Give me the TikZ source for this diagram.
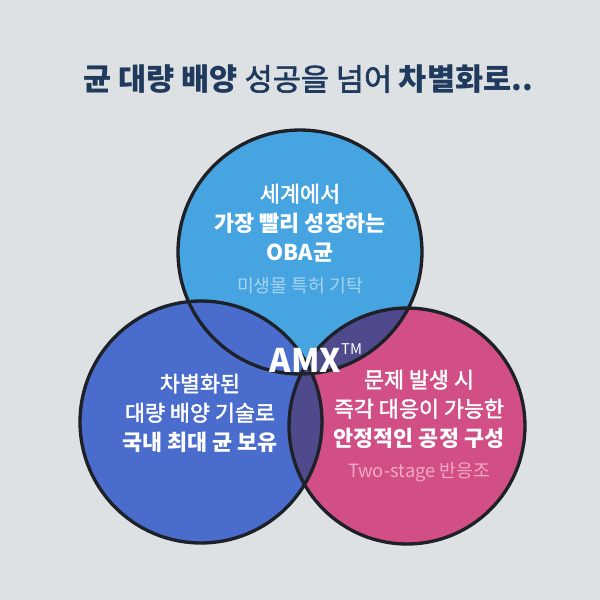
\documentclass[tikz,border=0pt]{standalone}
\usepackage{fontspec}
\setmainfont{Noto Sans CJK KR}
\newfontfamily\medfont{Noto Sans CJK KR}[BoldFont={Noto Sans CJK KR},
  BoldFeatures={FakeBold=2}]
\definecolor{bgGray}{HTML}{DDE1E4}
\definecolor{titleNavy}{HTML}{1F3A5C}
\definecolor{skyBlue}{HTML}{46A4E0}
\definecolor{royalBlue}{HTML}{4A6CCD}
\definecolor{rosePink}{HTML}{D24E86}
\definecolor{deepPurple}{HTML}{4E4A8C}
\definecolor{ringDark}{HTML}{1E2128}
\definecolor{noteBlue}{HTML}{A8D4F4}
\definecolor{notePink}{HTML}{F2A9C8}
\newcommand{\med}[1]{{\medfont\bfseries #1}}
\usetikzlibrary{positioning}

\begin{document}
\begin{tikzpicture}[
    x=0.02cm, y=-0.02cm,
    ring/.style={draw=ringDark, line width=1.9pt},
    body/.style={align=center, text=white, inner sep=0pt,
                 font=\fontsize{12.4}{16.6}\selectfont},
    note/.style={inner sep=0pt, font=\fontsize{10.4}{12}\selectfont}
  ]
    \fill[bgGray] (0,0) rectangle (600,600);
    \useasboundingbox (0,0) rectangle (600,600);

    \node[text=titleNavy, font=\fontsize{17.4}{20}\selectfont] (title) at (308,79)
      {\textbf{균 대량 배양 }\med{성공을 넘어 }\textbf{차별화로..}};

    \coordinate (oba) at (300,252);
    \coordinate (tech) at (201,422);
    \coordinate (proc) at (407,426);

    \fill[skyBlue] (oba) circle[radius=2.44cm];
    \fill[royalBlue] (tech) circle[radius=2.42cm];
    \fill[rosePink] (proc) circle[radius=2.36cm];
    \begin{scope}
      \clip (proc) circle[radius=2.36cm];
      \fill[deepPurple] (oba) circle[radius=2.44cm];
      \fill[deepPurple] (tech) circle[radius=2.42cm];
    \end{scope}
    \draw[ring] (oba) circle[radius=2.44cm];
    \draw[ring] (tech) circle[radius=2.42cm];
    \draw[ring] (proc) circle[radius=2.36cm];

    \node[body] (obaText) at (300,223)
      {\med{세계에서}\\ \textbf{가장 빨리 성장하는}\\ \textbf{OBA균}};
    \node[note, text=noteBlue] (obaNote) at (300,286) {미생물 특허 기탁};

    \node[body] (techText) at (200,413)
      {\med{차별화된}\\ \med{대량 배양 기술로}\\ \textbf{국내 최대 균 보유}};

    \node[body] (procText) at (419,409)
      {\med{문제 발생 시}\\ \med{즉각 대응이 가능한}\\ \textbf{안정적인 공정 구성}};
    \node[note, text=notePink] (procNote) at (419,472) {Two-stage 반응조};

    \node[text=white, font=\fontsize{18.5}{20}\selectfont\bfseries] (amx) at (316,358)
      {AMX\raisebox{1.05ex}{\mdseries\fontsize{8.4}{8}\selectfont TM}};
  \end{tikzpicture}
\end{document}
